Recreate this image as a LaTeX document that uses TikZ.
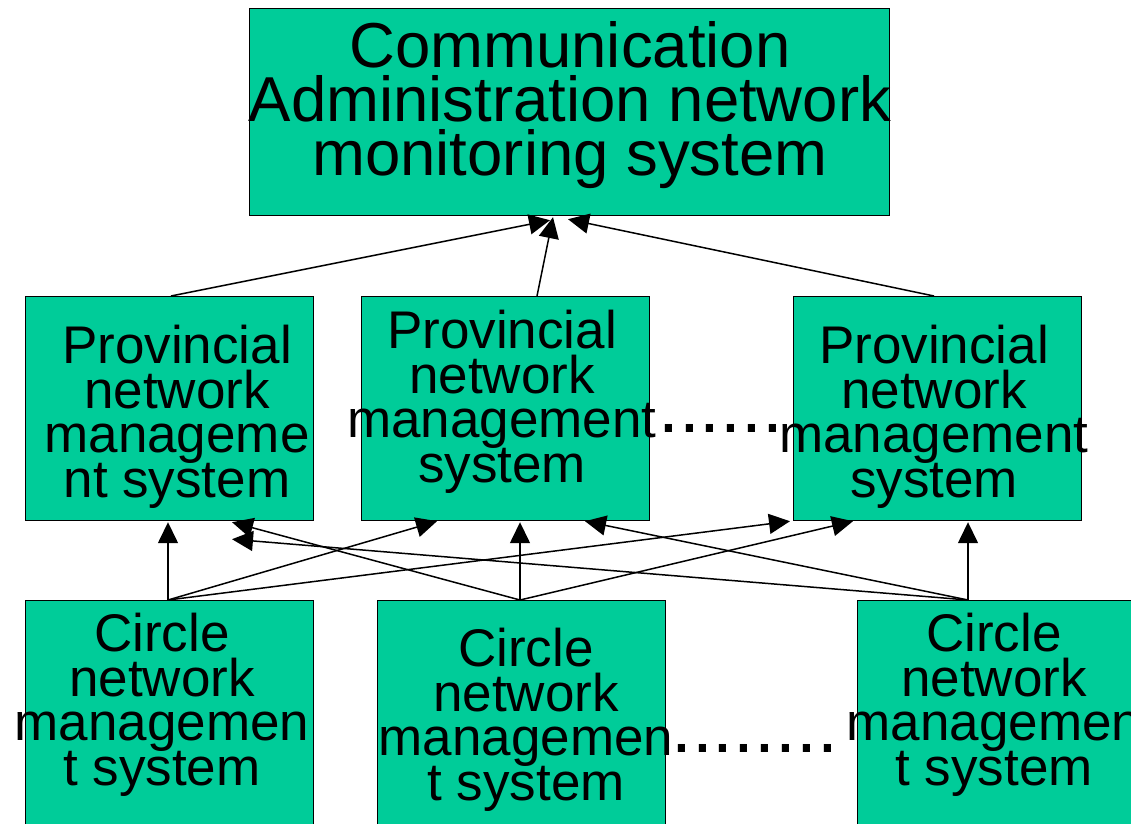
\documentclass[tikz,border=0pt]{standalone}
\usepackage{fontspec}
\setmainfont{Liberation Sans}
\usetikzlibrary{arrows.meta,calc}
\definecolor{boxgreen}{RGB}{0,204,153}
\begin{document}
\begin{tikzpicture}[x=1pt,y=-1pt,
  box/.style={draw=black, line width=1.2pt, fill=boxgreen, rectangle, inner sep=0pt, anchor=north west},
  bigtext/.style={font=\fontsize{63.5}{54}\selectfont\lineskiplimit-200pt, align=center, anchor=base, inner sep=0pt},
  midtext/.style={font=\fontsize{53}{44.5}\selectfont\lineskiplimit-200pt, align=center, anchor=base, inner sep=0pt},
  dotrow/.style={font=\fontsize{75}{75}\selectfont, anchor=base west, inner sep=0pt},
  link/.style={line width=1.5pt, -{Triangle[length=21pt,width=20pt]}}]
\clip (0,0) rectangle (1131,823);

% boxes
\node[box, minimum width=640pt, minimum height=207pt] (top) at (249,8) {};
\node[box, minimum width=288pt, minimum height=224pt] (pm1) at (25,296) {};
\node[box, minimum width=288pt, minimum height=224pt] (pm2) at (361,296) {};
\node[box, minimum width=288pt, minimum height=224pt] (pm3) at (793,296) {};
\node[box, minimum width=288pt, minimum height=240pt] (cb1) at (25,600) {};
\node[box, minimum width=288pt, minimum height=240pt] (cb2) at (377,600) {};
\node[box, minimum width=288pt, minimum height=240pt] (cb3) at (857,600) {};

% connector end points
\coordinate (s1) at ($(cb1.north west)+(143,0)$);
\coordinate (s2) at ($(cb2.north west)+(143,0)$);
\coordinate (s3) at ($(cb3.north west)+(111,0)$);

% provincial -> administration
\draw[link] ($(pm1.north west)+(146,0)$) -- ($(top.south west)+(301,4)$);
\draw[link] ($(pm2.north west)+(176,0)$) -- ($(top.south west)+(304,1)$);
\draw[link] ($(pm3.north west)+(141,0)$) -- ($(top.south west)+(319,3)$);

% circle -> provincial
\draw[link] (s1) -- ($(pm1.south west)+(143,1)$);
\draw[link] (s1) -- ($(pm2.south west)+(76,0)$);
\draw[link] (s1) -- ($(pm3.south west)+(-3,0)$);
\draw[link] (s2) -- ($(pm2.south west)+(159,1)$);
\draw[link] (s2) -- ($(pm1.south west)+(207,1)$);
\draw[link] (s2) -- ($(pm3.south west)+(60,0)$);
\draw[link] (s3) -- ($(pm3.south west)+(175,1)$);
\draw[link] (s3) -- ($(pm2.south west)+(224,0)$);
\draw[link] (s3) -- ($(pm1.south west)+(207,18)$);

% labels (anchored at the baseline of their last line)
\node[bigtext] (ttop) at (570,175) {Communication\\Administration network\\monitoring system};
\node[midtext] (tpm1) at (177,497) {Provincial\\network\\manageme\\nt system};
\node[midtext] (tpm2) at (502,482) {Provincial\\network\\management\\system};
\node[midtext] (tpm3) at (934,497) {Provincial\\network\\management\\system};
\node[midtext] (tcb1) at (162,785) {Circle\\network\\managemen\\t system};
\node[midtext] (tcb2) at (526,800) {Circle\\network\\managemen\\t system};
\node[midtext] (tcb3) at (994,785) {Circle\\network\\managemen\\t system};

% ellipses between boxes
\node[dotrow] (dmid) at (658,432) {......};
\node[dotrow] (dbot) at (671,752) {........};
\end{tikzpicture}
\end{document}
